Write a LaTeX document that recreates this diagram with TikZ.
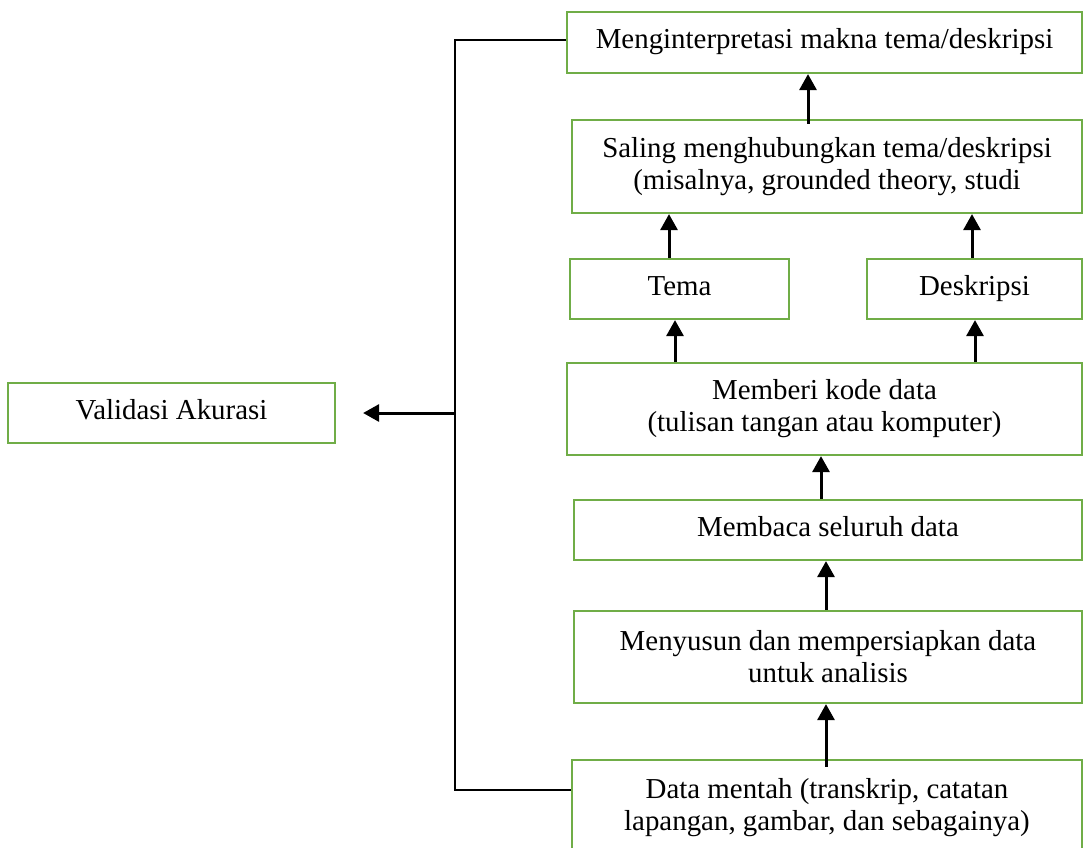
\documentclass[tikz,border=0pt]{standalone}
\usepackage{fontspec}
\setmainfont{Liberation Serif}
\usetikzlibrary{arrows.meta,calc}
\definecolor{boxgreen}{HTML}{70AD47}
\begin{document}
\begin{tikzpicture}[x=1pt,y=-1pt,
  box/.style={draw=boxgreen,line width=2.2pt,align=center,inner sep=0pt,
    font=\fontsize{28.9}{32}\selectfont},
  arr/.style={line width=3pt,-{Triangle[length=16pt,width=17pt]}},
  fbline/.style={line width=1.4pt}]
\useasboundingbox (0,0) rectangle (1083,847);
\node[box,minimum width=515pt,minimum height=61pt] (interp) at (824.5,42.5) {\strut Menginterpretasi makna tema/deskripsi};
\node[box,minimum width=510pt,minimum height=93pt] (saling) at (827,166.5) {Saling menghubungkan tema/deskripsi\\(misalnya, grounded theory, studi};
\node[box,minimum width=219pt,minimum height=60pt] (tema) at (679.5,289) {\strut Tema};
\node[box,minimum width=215pt,minimum height=60pt] (desk) at (974.5,289) {\strut Deskripsi};
\node[box,minimum width=515pt,minimum height=92pt] (kode) at (824.5,409) {Memberi kode data\\(tulisan tangan atau komputer)};
\node[box,minimum width=508pt,minimum height=60pt] (baca) at (828,530) {\strut Membaca seluruh data};
\node[box,minimum width=508pt,minimum height=92pt] (susun) at (828,657) {Menyusun dan mempersiapkan data\\untuk analisis};
\node[box,minimum width=510pt,minimum height=95pt] (data) at (827,807.5) {Data mentah (transkrip, catatan\\lapangan, gambar, dan sebagainya)};
\node[box,minimum width=327pt,minimum height=60pt] (valid) at (171.5,413) {\strut Validasi Akurasi};

\draw[arr] ([xshift=-19pt,yshift=-5pt]saling.north) -- ([xshift=-16.5pt]interp.south);
\draw[arr] ([xshift=-10.5pt]tema.north) -- ([xshift=-158pt]saling.south);
\draw[arr] ([xshift=-2.5pt]desk.north) -- ([xshift=145pt]saling.south);
\draw[arr] ([xshift=-149.5pt]kode.north) -- ([xshift=-4.5pt]tema.south);
\draw[arr] ([xshift=150.5pt]kode.north) -- ([xshift=0.5pt]desk.south);
\draw[arr] ([xshift=-7pt]baca.north) -- ([xshift=-3.5pt]kode.south);
\draw[arr] ([xshift=-2pt]susun.north) -- ([xshift=-2pt]baca.south);
\draw[arr] ([xshift=-1pt,yshift=-8pt]data.north) -- ([xshift=-2pt]susun.south);

\coordinate (ft) at (455,40);
\coordinate (fm) at (455,413);
\coordinate (fb) at (455,790);
\draw[fbline] (interp.west |- ft) -- (ft) -- (fb) -- (fb -| data.west);
\draw[arr,shorten >=27pt] (fm) -- (valid.east);
\end{tikzpicture}
\end{document}
